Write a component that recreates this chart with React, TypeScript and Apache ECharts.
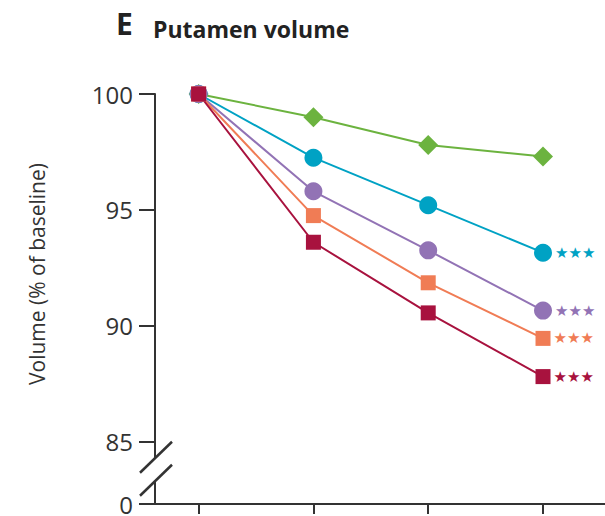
import { useEffect, useRef } from "react";
import * as echarts from "echarts";

// Follow-up visits (x positions on the time axis)
const timepoints = [1, 2, 3, 4];

// Putamen volume, % of baseline, per group
const greenValues = [100, 99.0, 97.8, 97.3];
const cyanValues = [100, 97.25, 95.2, 93.15];
const purpleValues = [100, 95.8, 93.25, 90.65];
const orangeValues = [100, 94.75, 91.85, 89.45];
const redValues = [100, 93.6, 90.55, 87.8];

// Y axis: visible ticks plus the broken-axis floor shown as "0"
const yTickValues = [85, 90, 95, 100];
const AXIS_FLOOR = 82.3;
const floorLabel = "0";
const BREAK_MID = 83.8;

const X_MIN = 0.62;
const X_MAX = 4.54;

const significance = "★★★";

const panelLetter = "E";
const panelTitle = "Putamen volume";
const yName = "Volume (% of baseline)";

const AXIS_COLOR = "#333333";
const TEXT_COLOR = "#222222";
const FONT = "'Open Sans', 'Noto Sans', sans-serif";

type SeriesDef = {
  name: string;
  values: number[];
  color: string;
  symbol: string;
  size: number;
  starred: boolean;
};

const seriesDefs: SeriesDef[] = [
  { name: "green", values: greenValues, color: "#6cb33f", symbol: "diamond", size: 20, starred: false },
  { name: "cyan", values: cyanValues, color: "#00a2c4", symbol: "circle", size: 18, starred: true },
  { name: "purple", values: purpleValues, color: "#9273b5", symbol: "circle", size: 18, starred: true },
  { name: "orange", values: orangeValues, color: "#f07c55", symbol: "rect", size: 15, starred: true },
  { name: "red", values: redValues, color: "#a8123e", symbol: "rect", size: 15, starred: true },
];

export default function App() {
  const ref = useRef<HTMLDivElement | null>(null);

  useEffect(() => {
    document.body.style.margin = "0";
    if (!ref.current) return;
    const chart = echarts.init(ref.current, undefined, { renderer: "svg" });

    const series = seriesDefs.map((s) => {
      const last = s.values.length - 1;
      return {
        type: "line",
        name: s.name,
        symbol: s.symbol,
        symbolSize: s.size,
        lineStyle: { color: s.color, width: 2 },
        itemStyle: { color: s.color },
        emphasis: { disabled: true },
        data: s.values.map((v, i) =>
          i === last && s.starred
            ? {
                value: [timepoints[i], v],
                label: {
                  show: true,
                  position: "right",
                  distance: 3,
                  formatter: significance,
                  color: s.color,
                  fontSize: 15,
                  fontFamily: "'DejaVu Sans', sans-serif",
                },
              }
            : [timepoints[i], v]
        ),
      };
    });

    const yCustom = [AXIS_FLOOR, ...yTickValues];

    chart.setOption({
      animation: false,
      grid: { left: 155, right: 0, top: 94, bottom: 10, containLabel: false },
      xAxis: {
        type: "value",
        min: X_MIN,
        max: X_MAX,
        axisLine: { show: true, onZero: false, lineStyle: { color: AXIS_COLOR, width: 2 } },
        axisTick: {
          show: true,
          length: 10,
          customValues: timepoints,
          lineStyle: { color: AXIS_COLOR, width: 2 },
        },
        axisLabel: { show: false },
        splitLine: { show: false },
      },
      yAxis: {
        type: "value",
        min: AXIS_FLOOR,
        max: 100,
        axisLine: { show: true, lineStyle: { color: AXIS_COLOR, width: 2 } },
        axisTick: {
          show: true,
          length: 16,
          customValues: yCustom,
          lineStyle: { color: AXIS_COLOR, width: 2 },
        },
        axisLabel: {
          customValues: yCustom,
          margin: 22,
          fontSize: 24,
          fontFamily: FONT,
          color: AXIS_COLOR,
          formatter: (v: number) => (Math.abs(v - AXIS_FLOOR) < 0.01 ? floorLabel : String(v)),
        },
        splitLine: { show: false },
      },
      series,
    });

    // Axis break marks and titles, anchored on the axis through the chart's own scale
    const [ax, ay] = chart.convertToPixel({ gridIndex: 0 }, [X_MIN, BREAK_MID]) as number[];
    const half = 11.5;
    const slash = (c: number) => ({
      type: "line",
      shape: { x1: ax - 15, y1: ay + c + 15, x2: ax + 17, y2: ay + c - 16 },
      style: { stroke: AXIS_COLOR, lineWidth: 2.5 },
      z: 10,
    });

    chart.setOption({
      graphic: [
        {
          type: "polygon",
          shape: {
            points: [
              [ax - 3, ay - half + 3],
              [ax + 3, ay - half - 3],
              [ax + 3, ay + half - 3],
              [ax - 3, ay + half + 3],
            ],
          },
          style: { fill: "#ffffff" },
          z: 9,
        },
        slash(-half),
        slash(half),
        {
          type: "text",
          x: 116,
          y: 23,
          style: {
            text: panelLetter,
            font: `bold 30px ${FONT}`,
            fill: TEXT_COLOR,
            align: "left",
            verticalAlign: "middle",
          },
        },
        {
          type: "text",
          x: 153,
          y: 29,
          style: {
            text: panelTitle,
            font: `bold 23px ${FONT}`,
            fill: TEXT_COLOR,
            align: "left",
            verticalAlign: "middle",
          },
        },
        {
          type: "text",
          x: 37,
          y: 274,
          rotation: Math.PI / 2,
          style: {
            text: yName,
            font: `21px ${FONT}`,
            fill: AXIS_COLOR,
            align: "center",
            verticalAlign: "middle",
          },
        },
      ],
    });

    return () => chart.dispose();
  }, []);

  return <div ref={ref} style={{ width: 605, height: 516 }} />;
}
